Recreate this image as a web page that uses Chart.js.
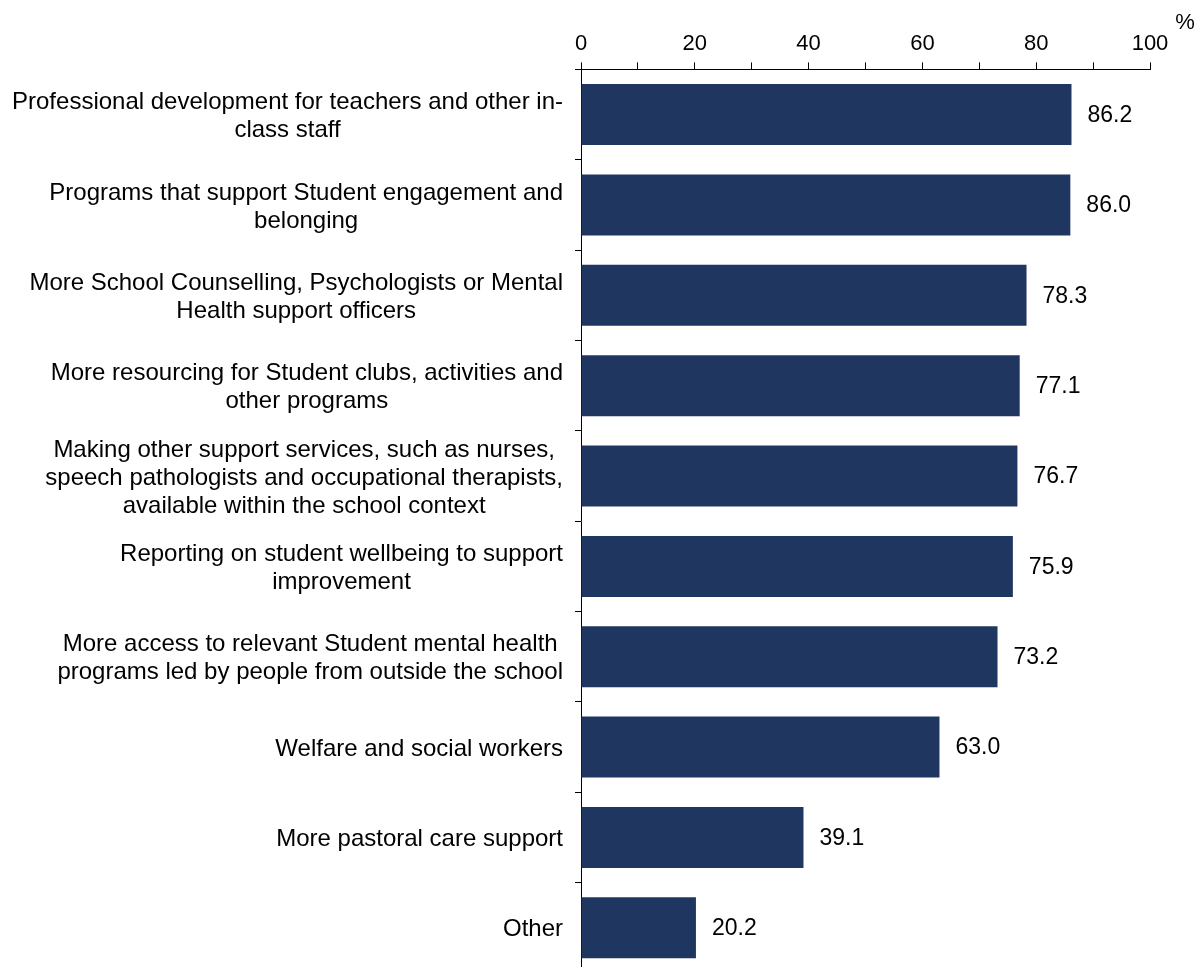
<!DOCTYPE html>
<html>
<head>
<meta charset="utf-8">
<script src="https://cdn.jsdelivr.net/npm/chart.js@4"></script>
<style>
  html, body { margin: 0; padding: 0; background: #fff; overflow: hidden; }
  /* plot runs slightly past the bottom edge of the page */
  #wrap { width: 1196px; height: 973px; }
</style>
</head>
<body>
<div id="wrap"><canvas id="myChart"></canvas></div>
<script>
const categories = [
    ["Professional development for teachers and other in-", "class staff"],
    ["Programs that support Student engagement and", "belonging"],
    ["More School Counselling, Psychologists or Mental", "Health support officers"],
    ["More resourcing for Student clubs, activities and", "other programs"],
    ["Making other support services, such as nurses,", "speech pathologists and occupational therapists,", "available within the school context"],
    ["Reporting on student wellbeing to support", "improvement"],
    ["More access to relevant Student mental health", "programs led by people from outside the school"],
    ["Welfare and social workers"],
    ["More pastoral care support"],
    ["Other"],
];
const values = [86.2, 86.0, 78.3, 77.1, 76.7, 75.9, 73.2, 63.0, 39.1, 20.2];
const tickLabels = [0, 20, 40, 60, 80, 100];

const FONT = "Liberation Sans, Arial, sans-serif";
const navy = "#1f3660";

// category names, drawn right-aligned as a block with centred lines
const categoryLabels = {
    id: "categoryLabels",
    afterDraw(chart) {
        const { ctx } = chart;
        const yScale = chart.scales.y;
        const right = yScale.right - 18;
        const lineH = 28;
        ctx.save();
        ctx.font = "24px " + FONT;
        ctx.fillStyle = "#000";
        ctx.textAlign = "center";
        ctx.textBaseline = "middle";
        categories.forEach((lines, i) => {
            const y = yScale.getPixelForValue(i) + 2;
            const w = Math.max(...lines.map((l) => ctx.measureText(l).width));
            const cx = right - w / 2;
            lines.forEach((l, j) => {
                ctx.fillText(l, cx, y + (j - (lines.length - 1) / 2) * lineH);
            });
        });
        ctx.restore();
    },
};

// value at the end of each bar, plus the unit sign at the axis end
const valueLabels = {
    id: "valueLabels",
    afterDatasetsDraw(chart) {
        const { ctx } = chart;
        const meta = chart.getDatasetMeta(0);
        ctx.save();
        ctx.font = "23px " + FONT;
        ctx.fillStyle = "#000";
        ctx.textAlign = "left";
        ctx.textBaseline = "middle";
        meta.data.forEach((bar, i) => {
            ctx.fillText(values[i].toFixed(1), bar.x + 16, bar.y + 1);
        });
        const xScale = chart.scales.x;
        ctx.font = "22px " + FONT;
        ctx.textAlign = "center";
        ctx.fillText("%", xScale.getPixelForValue(100) + 35, 23);
        ctx.restore();
    },
};

new Chart(document.getElementById("myChart"), {
    type: "bar",
    data: {
        labels: categories,
        datasets: [
            {
                data: values,
                backgroundColor: navy,
                borderWidth: 0,
                categoryPercentage: 1,
                barPercentage: 0.675,
            },
        ],
    },
    options: {
        indexAxis: "y",
        responsive: true,
        maintainAspectRatio: false,
        animation: false,
        layout: { padding: { left: 575, right: 46, top: 26, bottom: 0 } },
        plugins: { legend: { display: false }, tooltip: { enabled: false } },
        scales: {
            x: {
                position: "top",
                min: 0,
                max: 100,
                ticks: {
                    stepSize: 10,
                    autoSkip: false,
                    maxRotation: 0,
                    padding: 5,
                    color: "#000",
                    font: { family: FONT, size: 22 },
                    callback: (v) => (tickLabels.includes(v) ? v : ""),
                },
                grid: { drawOnChartArea: false, tickLength: 7, color: "#000" },
                border: { color: "#000", width: 1 },
            },
            y: {
                ticks: { display: false },
                grid: {
                    offset: true,
                    drawOnChartArea: false,
                    tickLength: 6,
                    color: "#000",
                },
                border: { color: "#000", width: 1 },
            },
        },
    },
    plugins: [categoryLabels, valueLabels],
});
</script>
</body>
</html>
